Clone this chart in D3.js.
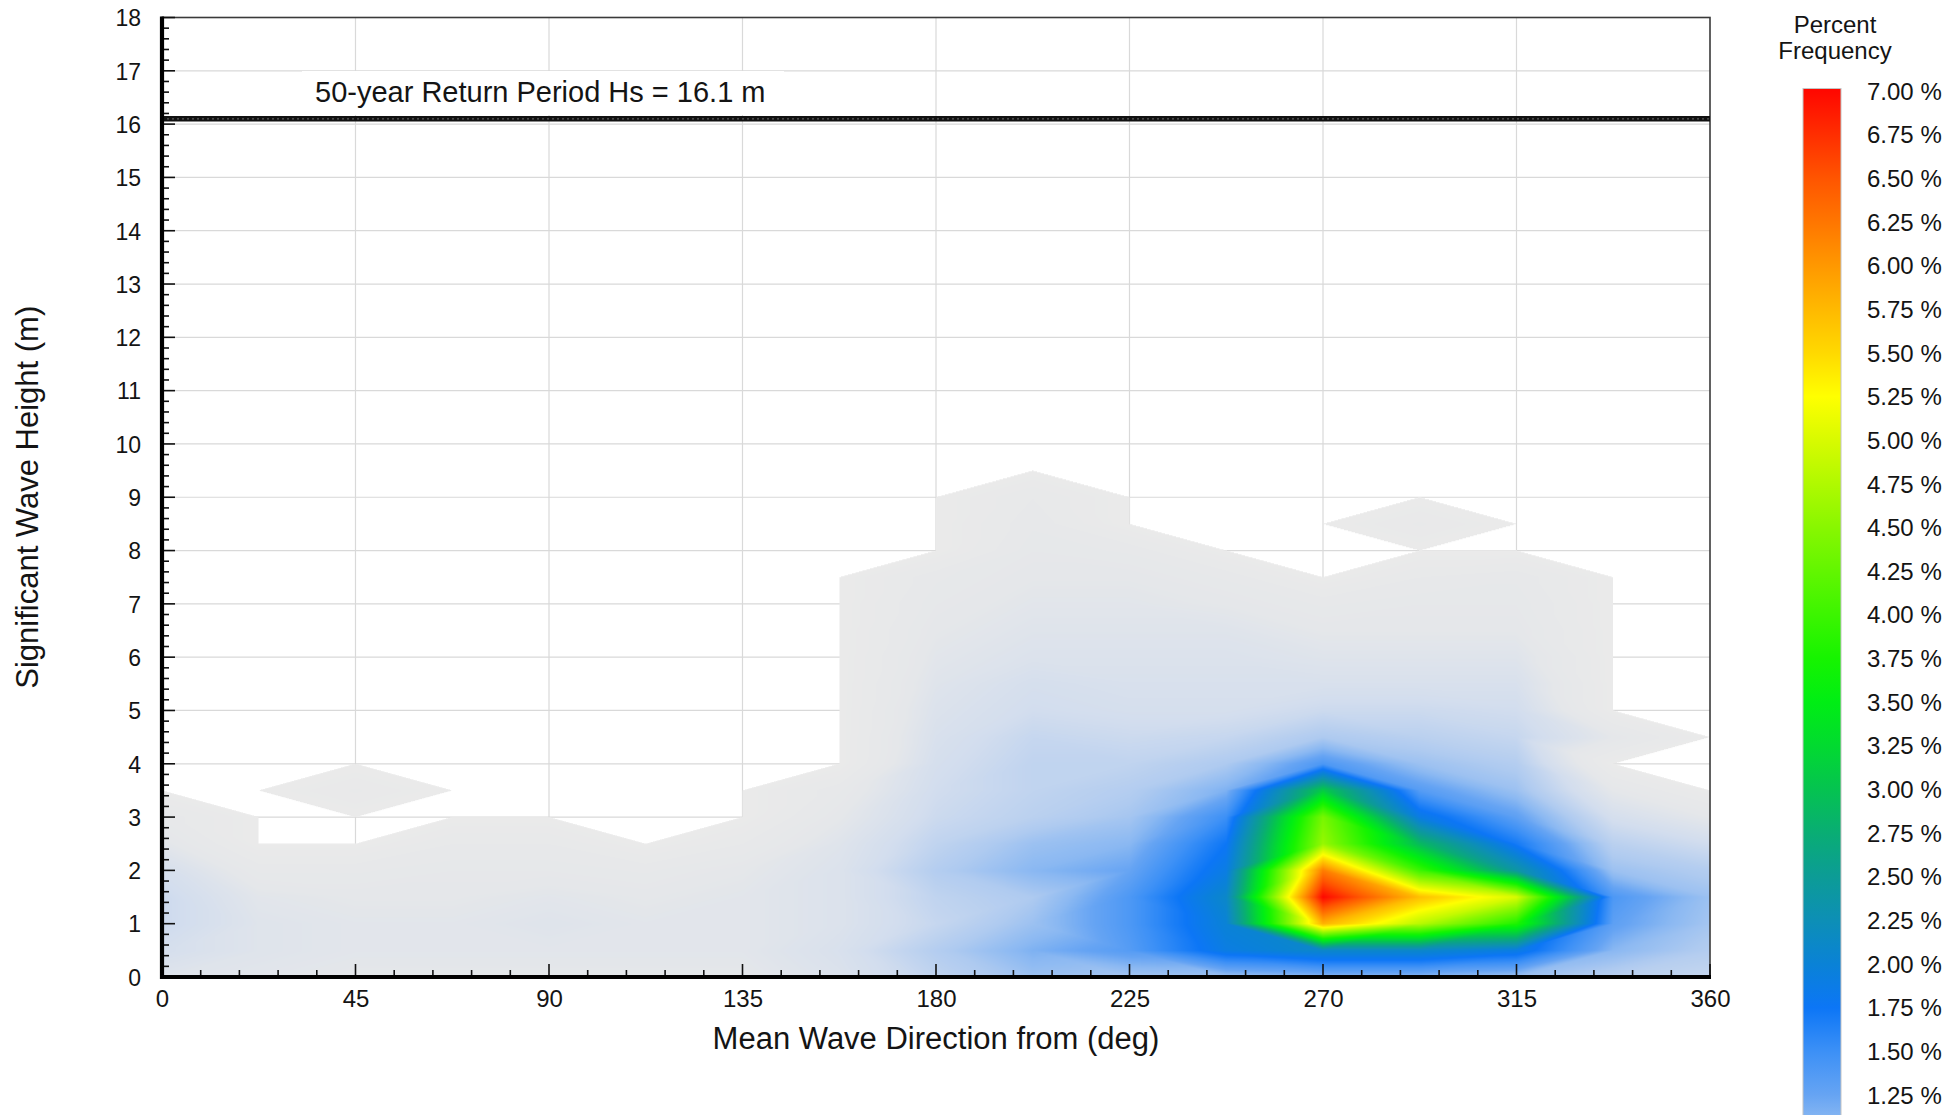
<!DOCTYPE html>
<html>
<head>
<meta charset="utf-8">
<script src="https://cdn.jsdelivr.net/npm/d3@7"></script>
<style>
  html, body { margin: 0; padding: 0; background: #ffffff; }
  svg { display: block; font-family: "Liberation Sans", Arial, Helvetica, sans-serif; }
</style>
</head>
<body>
<svg id="chart" width="1956" height="1115"></svg>
<script>
// Grid nodes of the joint distribution: mean wave direction (deg) and significant wave height (m)
const directions = [0, 22.5, 45, 67.5, 90, 112.5, 135, 157.5, 180, 202.5, 225, 247.5, 270, 292.5, 315, 337.5, 360];
const heights = [0, 0.5, 1, 1.5, 2, 2.5, 3, 3.5, 4, 4.5, 5, 5.5, 6, 6.5, 7, 7.5, 8, 8.5, 9, 9.5, 10];

// Percent frequency at each node; one row per height, one entry per direction
const percentFrequency = [
  /* 0.0 */ [0.40, 0.35, 0.30, 0.30, 0.30, 0.30, 0.30, 0.45, 0.75, 1.00, 0.95, 1.00, 1.10, 1.10, 1.00, 0.80, 0.70],
  /* 0.5 */ [0.55, 0.40, 0.35, 0.35, 0.35, 0.35, 0.35, 0.50, 0.85, 1.15, 1.35, 1.90, 2.10, 2.10, 1.90, 1.10, 0.85],
  /* 1.0 */ [0.65, 0.40, 0.35, 0.35, 0.40, 0.35, 0.35, 0.45, 0.70, 1.00, 1.40, 2.00, 5.80, 4.80, 3.80, 1.30, 0.95],
  /* 1.5 */ [0.65, 0.35, 0.30, 0.30, 0.35, 0.30, 0.35, 0.45, 0.75, 0.90, 1.40, 2.10, 7.00, 5.70, 5.00, 1.40, 1.00],
  /* 2.0 */ [0.55, 0.20, 0.20, 0.25, 0.25, 0.20, 0.30, 0.45, 0.85, 1.10, 1.25, 1.90, 6.20, 4.00, 2.40, 1.00, 0.85],
  /* 2.5 */ [0.35, 0.00, 0.00, 0.15, 0.15, 0.00, 0.15, 0.40, 0.75, 1.00, 1.10, 1.75, 4.60, 2.90, 1.70, 0.80, 0.60],
  /* 3.0 */ [0.20, 0.00, 0.00, 0.00, 0.00, 0.00, 0.00, 0.30, 0.65, 0.80, 0.95, 1.50, 4.40, 1.90, 1.30, 0.55, 0.30],
  /* 3.5 */ [0.00, 0.00, 0.10, 0.00, 0.00, 0.00, 0.00, 0.20, 0.60, 0.75, 0.85, 1.15, 3.10, 1.35, 1.00, 0.30, 0.00],
  /* 4.0 */ [0.00, 0.00, 0.00, 0.00, 0.00, 0.00, 0.00, 0.00, 0.55, 0.75, 0.75, 0.90, 1.40, 1.00, 0.85, 0.00, 0.00],
  /* 4.5 */ [0.00, 0.00, 0.00, 0.00, 0.00, 0.00, 0.00, 0.00, 0.50, 0.70, 0.65, 0.70, 0.90, 0.80, 0.70, 0.30, 0.00],
  /* 5.0 */ [0.00, 0.00, 0.00, 0.00, 0.00, 0.00, 0.00, 0.00, 0.45, 0.60, 0.55, 0.55, 0.65, 0.65, 0.60, 0.00, 0.00],
  /* 5.5 */ [0.00, 0.00, 0.00, 0.00, 0.00, 0.00, 0.00, 0.00, 0.40, 0.55, 0.50, 0.50, 0.50, 0.50, 0.50, 0.00, 0.00],
  /* 6.0 */ [0.00, 0.00, 0.00, 0.00, 0.00, 0.00, 0.00, 0.00, 0.35, 0.45, 0.45, 0.45, 0.40, 0.40, 0.40, 0.00, 0.00],
  /* 6.5 */ [0.00, 0.00, 0.00, 0.00, 0.00, 0.00, 0.00, 0.00, 0.30, 0.40, 0.40, 0.40, 0.30, 0.30, 0.30, 0.00, 0.00],
  /* 7.0 */ [0.00, 0.00, 0.00, 0.00, 0.00, 0.00, 0.00, 0.00, 0.25, 0.35, 0.35, 0.30, 0.20, 0.25, 0.25, 0.00, 0.00],
  /* 7.5 */ [0.00, 0.00, 0.00, 0.00, 0.00, 0.00, 0.00, 0.00, 0.20, 0.30, 0.30, 0.20, 0.00, 0.15, 0.20, 0.00, 0.00],
  /* 8.0 */ [0.00, 0.00, 0.00, 0.00, 0.00, 0.00, 0.00, 0.00, 0.00, 0.25, 0.20, 0.00, 0.00, 0.00, 0.00, 0.00, 0.00],
  /* 8.5 */ [0.00, 0.00, 0.00, 0.00, 0.00, 0.00, 0.00, 0.00, 0.00, 0.20, 0.00, 0.00, 0.00, 0.10, 0.00, 0.00, 0.00],
  /* 9.0 */ [0.00, 0.00, 0.00, 0.00, 0.00, 0.00, 0.00, 0.00, 0.00, 0.15, 0.00, 0.00, 0.00, 0.00, 0.00, 0.00, 0.00],
  /* 9.5 */ [0.00, 0.00, 0.00, 0.00, 0.00, 0.00, 0.00, 0.00, 0.00, 0.00, 0.00, 0.00, 0.00, 0.00, 0.00, 0.00, 0.00],
  /* 10  */ [0.00, 0.00, 0.00, 0.00, 0.00, 0.00, 0.00, 0.00, 0.00, 0.00, 0.00, 0.00, 0.00, 0.00, 0.00, 0.00, 0.00]
];

// Axis ticks and reference level
const directionTicks = [0, 45, 90, 135, 180, 225, 270, 315, 360];
const heightTicks = [0, 1, 2, 3, 4, 5, 6, 7, 8, 9, 10, 11, 12, 13, 14, 15, 16, 17, 18];
const returnPeriodHs = 16.1;
const returnPeriodLabel = "50-year Return Period Hs = 16.1 m";

// Colour ramp (percent -> colour) and the legend levels
const rampLevels = [0, 0.3, 0.6, 0.9, 1.1, 1.25, 1.5, 1.75, 2.0, 2.25, 2.5, 2.75, 3.0, 3.25, 3.5, 3.75, 4.0, 4.25, 4.5, 4.75, 5.0, 5.25, 5.5, 5.75, 6.0, 6.25, 6.5, 6.75, 7.0];
const rampColors = ["#eaeaea", "#e5e7ea", "#d2ddee", "#aecaf0", "#8ab8f2", "#66a4f3", "#3c90f6", "#0c76f6", "#0a82d6", "#0d8fb6", "#0c9c96", "#09ad74", "#05c350", "#02da30", "#00ee14", "#16f400", "#3cf500", "#62f600", "#88f700", "#b0f900", "#d8fb00", "#ffff00", "#ffd900", "#ffb900", "#ff9800", "#ff7600", "#ff5500", "#ff2e00", "#ff0800"];
const legendLevels = [7.0, 6.75, 6.5, 6.25, 6.0, 5.75, 5.5, 5.25, 5.0, 4.75, 4.5, 4.25, 4.0, 3.75, 3.5, 3.25, 3.0, 2.75, 2.5, 2.25, 2.0, 1.75, 1.5, 1.25];

// ---------------------------------------------------------------- layout
const plot = { left: 162, right: 1710, top: 17.5, bottom: 977 };
const svg = d3.select("#chart");

const x = d3.scaleLinear().domain([0, 360]).range([plot.left, plot.right]);
const y = d3.scaleLinear().domain([0, 18]).range([plot.bottom, plot.top]);
const color = d3.scaleLinear().domain(rampLevels).range(rampColors)
  .interpolate(d3.interpolateRgb).clamp(true);

// ---------------------------------------------------------------- grid lines (under the field)
const grid = svg.append("g").attr("stroke", "#d9d9d9").attr("stroke-width", 1.2);
grid.selectAll("line.gx").data(directionTicks.slice(1, -1)).join("line")
  .attr("x1", d => x(d)).attr("x2", d => x(d))
  .attr("y1", plot.top).attr("y2", plot.bottom);
grid.selectAll("line.gy").data(heightTicks.slice(1, -1)).join("line")
  .attr("x1", plot.left).attr("x2", plot.right)
  .attr("y1", d => y(d)).attr("y2", d => y(d));

// ---------------------------------------------------------------- field
// Piecewise-linear surface: every grid cell is split along the diagonal that
// does not touch its largest corner, then each triangle is interpolated linearly.
function fieldValue(dir, hs) {
  const nx = directions.length, ny = heights.length;
  if (hs >= heights[ny - 1] || hs < heights[0]) return 0;
  let j = d3.bisectRight(directions, dir) - 1;
  j = Math.max(0, Math.min(nx - 2, j));
  let i = d3.bisectRight(heights, hs) - 1;
  i = Math.max(0, Math.min(ny - 2, i));
  const u = (dir - directions[j]) / (directions[j + 1] - directions[j]);
  const w = (hs - heights[i]) / (heights[i + 1] - heights[i]);
  const v00 = percentFrequency[i][j], v10 = percentFrequency[i][j + 1];
  const v01 = percentFrequency[i + 1][j], v11 = percentFrequency[i + 1][j + 1];
  const top = Math.max(v00, v10, v01, v11);
  if (top === v10 || top === v01) {
    if (!(top === v00 || top === v11) || v10 + v01 < v00 + v11) {
      // diagonal from lower-left to upper-right
      if (w <= u) return v00 + u * (v10 - v00) + w * (v11 - v10);
      return v00 + w * (v01 - v00) + u * (v11 - v01);
    }
  }
  // diagonal from upper-left to lower-right
  if (u + w <= 1) return v00 + u * (v10 - v00) + w * (v01 - v00);
  return v11 + (1 - u) * (v01 - v11) + (1 - w) * (v10 - v11);
}

const ss = 2; // supersampling
const cw = Math.round((plot.right - plot.left) * ss);
const ch = Math.round((plot.bottom - plot.top) * ss);
const canvas = document.createElement("canvas");
canvas.width = cw; canvas.height = ch;
const ctx = canvas.getContext("2d");
const img = ctx.createImageData(cw, ch);
const lut = d3.range(0, 7.001, 0.005).map(v => d3.rgb(color(v)));
for (let py = 0; py < ch; py++) {
  const hs = y.invert(plot.top + (py + 0.5) / ss);
  for (let px = 0; px < cw; px++) {
    const dir = x.invert(plot.left + (px + 0.5) / ss);
    const v = fieldValue(dir, hs);
    if (v <= 1e-6) continue;
    const c = lut[Math.min(lut.length - 1, Math.round(v / 0.005))];
    const k = (py * cw + px) * 4;
    img.data[k] = c.r; img.data[k + 1] = c.g; img.data[k + 2] = c.b; img.data[k + 3] = 255;
  }
}
ctx.putImageData(img, 0, 0);
svg.append("image")
  .attr("x", plot.left).attr("y", plot.top)
  .attr("width", plot.right - plot.left).attr("height", plot.bottom - plot.top)
  .attr("preserveAspectRatio", "none")
  .attr("href", canvas.toDataURL("image/png"));

// ---------------------------------------------------------------- frame
svg.append("rect")
  .attr("x", plot.left).attr("y", plot.top)
  .attr("width", plot.right - plot.left).attr("height", plot.bottom - plot.top)
  .attr("fill", "none").attr("stroke", "#3a3a3a").attr("stroke-width", 1.6);

// ---------------------------------------------------------------- return period level
svg.append("rect")
  .attr("x", 302).attr("y", 71).attr("width", 482).attr("height", 44)
  .attr("fill", "#ffffff");
svg.append("line")
  .attr("x1", plot.left).attr("x2", plot.right)
  .attr("y1", y(returnPeriodHs)).attr("y2", y(returnPeriodHs))
  .attr("stroke", "#111111").attr("stroke-width", 5.5);
svg.append("line")
  .attr("x1", plot.left).attr("x2", plot.right)
  .attr("y1", y(returnPeriodHs)).attr("y2", y(returnPeriodHs))
  .attr("stroke", "#5a5a5a").attr("stroke-width", 1.2).attr("stroke-dasharray", "2,3");
svg.append("text")
  .attr("x", 315).attr("y", 101.5)
  .attr("font-size", 29).attr("fill", "#141414")
  .text(returnPeriodLabel);

// ---------------------------------------------------------------- axes
const xAxis = d3.axisBottom(x).tickValues(directionTicks).tickSize(0).tickPadding(0);
const gx = svg.append("g").attr("transform", `translate(0,${plot.bottom})`).call(xAxis);
gx.select(".domain").remove();
gx.selectAll("text").attr("font-size", 24).attr("fill", "#141414")
  .attr("font-family", "Liberation Sans, Arial, sans-serif")
  .attr("dy", null).attr("y", 30);

// major and minor ticks pointing into the plot
const xMinor = d3.range(0, 361, 9);
svg.append("g").selectAll("line").data(xMinor).join("line")
  .attr("x1", d => x(d)).attr("x2", d => x(d))
  .attr("y1", plot.bottom).attr("y2", d => plot.bottom - (d % 45 === 0 ? 13 : 7))
  .attr("stroke", "#111").attr("stroke-width", 1.6);
const yMinor = d3.range(0, 90.5, 1).map(k => k / 5);
svg.append("g").selectAll("line").data(yMinor).join("line")
  .attr("y1", d => y(d)).attr("y2", d => y(d))
  .attr("x1", plot.left).attr("x2", d => plot.left + (Math.abs(d - Math.round(d)) < 1e-6 ? 13 : 7))
  .attr("stroke", "#111").attr("stroke-width", 1.6);

const yAxis = d3.axisLeft(y).tickValues(heightTicks).tickSize(0).tickPadding(0);
const gy = svg.append("g").attr("transform", `translate(${plot.left},0)`).call(yAxis);
gy.select(".domain").remove();
gy.selectAll("text").attr("font-size", 23).attr("fill", "#141414")
  .attr("font-family", "Liberation Sans, Arial, sans-serif")
  .attr("x", -21).attr("dy", "0.36em");

// heavy axis lines
svg.append("line").attr("x1", plot.left).attr("x2", plot.left)
  .attr("y1", plot.top - 1).attr("y2", plot.bottom + 2)
  .attr("stroke", "#000").attr("stroke-width", 4.2);
svg.append("line").attr("x1", plot.left - 2).attr("x2", plot.right + 1)
  .attr("y1", plot.bottom).attr("y2", plot.bottom)
  .attr("stroke", "#000").attr("stroke-width", 4.2);

// axis titles
svg.append("text")
  .attr("x", (plot.left + plot.right) / 2).attr("y", 1049)
  .attr("text-anchor", "middle").attr("font-size", 31).attr("fill", "#141414")
  .text("Mean Wave Direction from (deg)");
svg.append("text")
  .attr("transform", `translate(38,${(plot.top + plot.bottom) / 2}) rotate(-90)`)
  .attr("text-anchor", "middle").attr("font-size", 31).attr("fill", "#141414")
  .text("Significant Wave Height (m)");

// ---------------------------------------------------------------- colour bar
const cb = d3.scaleLinear().domain([1.25, 7.0]).range([1095, 91]);
const barX = 1803, barW = 38;
const defs = svg.append("defs");
const grad = defs.append("linearGradient").attr("id", "rampGradient")
  .attr("gradientUnits", "userSpaceOnUse")
  .attr("x1", 0).attr("x2", 0).attr("y1", cb(7)).attr("y2", cb(0));
grad.selectAll("stop").data(rampLevels.slice().reverse()).join("stop")
  .attr("offset", d => (7 - d) / 7)
  .attr("stop-color", d => color(d));
svg.append("rect")
  .attr("x", barX).attr("y", cb(7) - 2.5)
  .attr("width", barW).attr("height", cb(0) - cb(7) + 2.5)
  .attr("fill", "url(#rampGradient)")
  .attr("stroke", "#c4c4c4").attr("stroke-width", 1);

svg.append("g").selectAll("text").data(legendLevels).join("text")
  .attr("x", 1867).attr("y", d => cb(d)).attr("dy", "0.36em")
  .attr("font-size", 24).attr("fill", "#141414")
  .text(d => d3.format(".2f")(d) + " %");

const legendTitle = svg.append("text").attr("text-anchor", "middle")
  .attr("font-size", 24).attr("fill", "#141414");
legendTitle.append("tspan").attr("x", 1835).attr("y", 33).text("Percent");
legendTitle.append("tspan").attr("x", 1835).attr("y", 59).text("Frequency");
</script>
</body>
</html>
